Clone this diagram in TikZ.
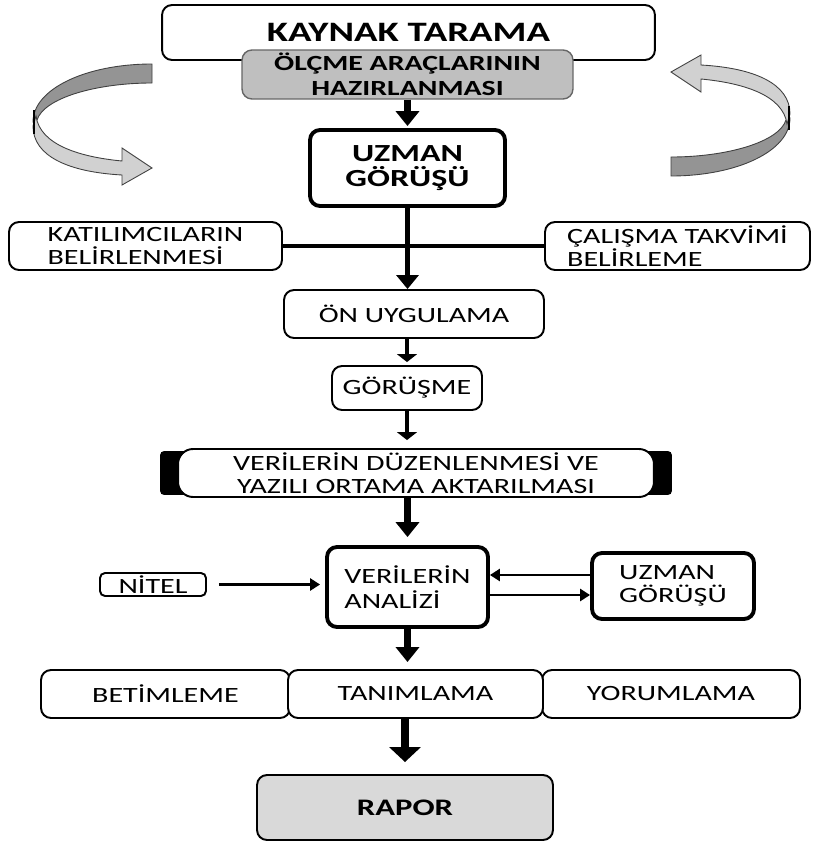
\documentclass[tikz,border=0pt]{standalone}
\usepackage{fontspec}
\setmainfont{Carlito}[FakeStretch=1.38]
\usetikzlibrary{arrows.meta,backgrounds}

% donen ok (sol ustte), sag taraftaki 180 derece cevrilmis hali
\newcommand{\halkaok}{%
  \filldraw[draw=black!75,line width=0.5pt,fill=black!42] (152,64) .. controls (86,64) and (33,89) .. (33,122) -- (37,120) .. controls (44,98) and (96,83) .. (152,83) -- cycle;
  \filldraw[draw=black!75,line width=0.5pt,fill=black!18] (36,116) .. controls (40,145) and (80,157) .. (122,161) -- (122,148) -- (152,168) -- (122,185) -- (122,175) .. controls (68,172) and (33,156) .. (33,126) -- cycle;
  \draw[line width=1pt] (34,110) -- (34,134);}

\begin{document}
\begin{tikzpicture}[x=0.02cm,y=-0.02cm,
  kutu/.style={draw,fill=white,rounded corners=0.2cm,line width=1.1pt,inner sep=0pt,align=center,font=\fontsize{12.4}{13}\selectfont},
  kalin/.style={kutu,line width=2.2pt},
  ok/.style={line width=3.6pt,-{Triangle[width=0.46cm,length=0.3cm]}},
  orta/.style={line width=2.6pt,-{Triangle[width=0.4cm,length=0.16cm]}},
  ince/.style={line width=1.5pt,-{Triangle[width=0.24cm,length=0.2cm]}}]
\useasboundingbox (0,0) rectangle (812,845);

\halkaok
\begin{scope}[rotate around={180:(411.5,120)}]
\halkaok
\end{scope}

\node[kutu,minimum width=9.86cm,minimum height=1.1cm,font=\fontsize{16}{18}\selectfont\bfseries] (kaynak) at (408.5,32.5) {KAYNAK TARAMA};
\node[kutu,draw=black!60,line width=0.8pt,fill=black!25,minimum width=6.62cm,minimum height=0.98cm,font=\fontsize{12.3}{14.2}\selectfont\bfseries] (olcme) at (407.5,74.5) {ÖLÇME ARAÇLARININ\\HAZIRLANMASI};
\node[kalin,minimum width=3.9cm,minimum height=1.52cm,font=\fontsize{14}{14.2}\selectfont\bfseries] (uzman) at (407.5,168) {UZMAN\\GÖRÜŞÜ};

\node[kutu,align=left,minimum width=5.46cm,minimum height=0.96cm] (katil) at (145.5,246) {KATILIMCILARIN\\BELİRLENMESİ};
\node[kutu,align=left,minimum width=5.3cm,minimum height=0.96cm] (takvim) at (677.5,246) {ÇALIŞMA TAKVİMİ\\BELİRLEME};

\node[kutu,minimum width=5.2cm,minimum height=0.96cm] (onuyg) at (414,314) {ÖN UYGULAMA};
\node[kutu,minimum width=3.0cm,minimum height=0.88cm] (gorusme) at (407,388) {GÖRÜŞME};
\node[kutu,rounded corners=0.3cm,minimum width=9.52cm,minimum height=0.96cm,font=\fontsize{12.4}{13.3}\selectfont] (duzen) at (416,473) {VERİLERİN DÜZENLENMESİ VE\\YAZILI ORTAMA AKTARILMASI};
\begin{scope}[on background layer]
\fill[rounded corners=0.08cm] ([xshift=-0.34cm,yshift=-0.06cm]duzen.north west) rectangle ([xshift=0.34cm,yshift=0.06cm]duzen.south east);
\end{scope}

\node[kalin,align=left,minimum width=3.22cm,minimum height=1.6cm,font=\fontsize{12.4}{14.2}\selectfont] (analiz) at (407.5,587) {VERİLERİN\\ANALİZİ};
\node[kutu,rounded corners=0.1cm,minimum width=2.12cm,minimum height=0.46cm] (nitel) at (153,584.5) {NİTEL};
\node[kalin,align=left,minimum width=3.24cm,minimum height=1.32cm] (uzman2) at (673,586) {UZMAN\\GÖRÜŞÜ};

\node[kutu,minimum width=4.98cm,minimum height=0.96cm] (betim) at (165.5,694) {BETİMLEME};
\node[kutu,minimum width=5.16cm,minimum height=0.96cm] (yorum) at (671,694) {YORUMLAMA};
\node[kutu,minimum width=5.1cm,minimum height=0.96cm] (tanim) at (415.5,694) {TANIMLAMA};

\node[kutu,fill=black!15,minimum width=5.92cm,minimum height=1.3cm,font=\fontsize{13.5}{15}\selectfont\bfseries] (rapor) at (405,807.5) {RAPOR};

% oklar
\draw[ok,shorten >=0.04cm] (olcme.south) -- (uzman.north);
\draw[orta,line width=2.4pt,-{Triangle[width=0.44cm,length=0.28cm]}] (uzman.south) -- (uzman.south |- onuyg.north);
\draw[line width=2.3pt] (katil.east) -- (takvim.west);
\draw[orta,shorten >=0.06cm] (gorusme.north |- onuyg.south) -- (gorusme.north);
\draw[orta,shorten >=0.16cm] (gorusme.south) -- (gorusme.south |- duzen.north);
\draw[ok,shorten >=0.16cm] (analiz.north |- duzen.south) -- (analiz.north);
\draw[ince,shorten <=0.24cm,shorten >=0.1cm] (nitel.east) -- (nitel.east -| analiz.west);
\draw[ince] ([yshift=0.22cm]uzman2.west) -- ([yshift=0.22cm]uzman2.west -| analiz.east);
\draw[ince] ([yshift=-0.16cm]analiz.east) -- ([yshift=-0.16cm]analiz.east -| uzman2.west);
\draw[ok,shorten >=0.14cm] (analiz.south) -- (analiz.south |- tanim.north);
\draw[ok,line width=4.4pt,-{Triangle[width=0.62cm,length=0.3cm]},shorten >=0.24cm] (rapor.north |- tanim.south) -- (rapor.north);
\end{tikzpicture}
\end{document}
